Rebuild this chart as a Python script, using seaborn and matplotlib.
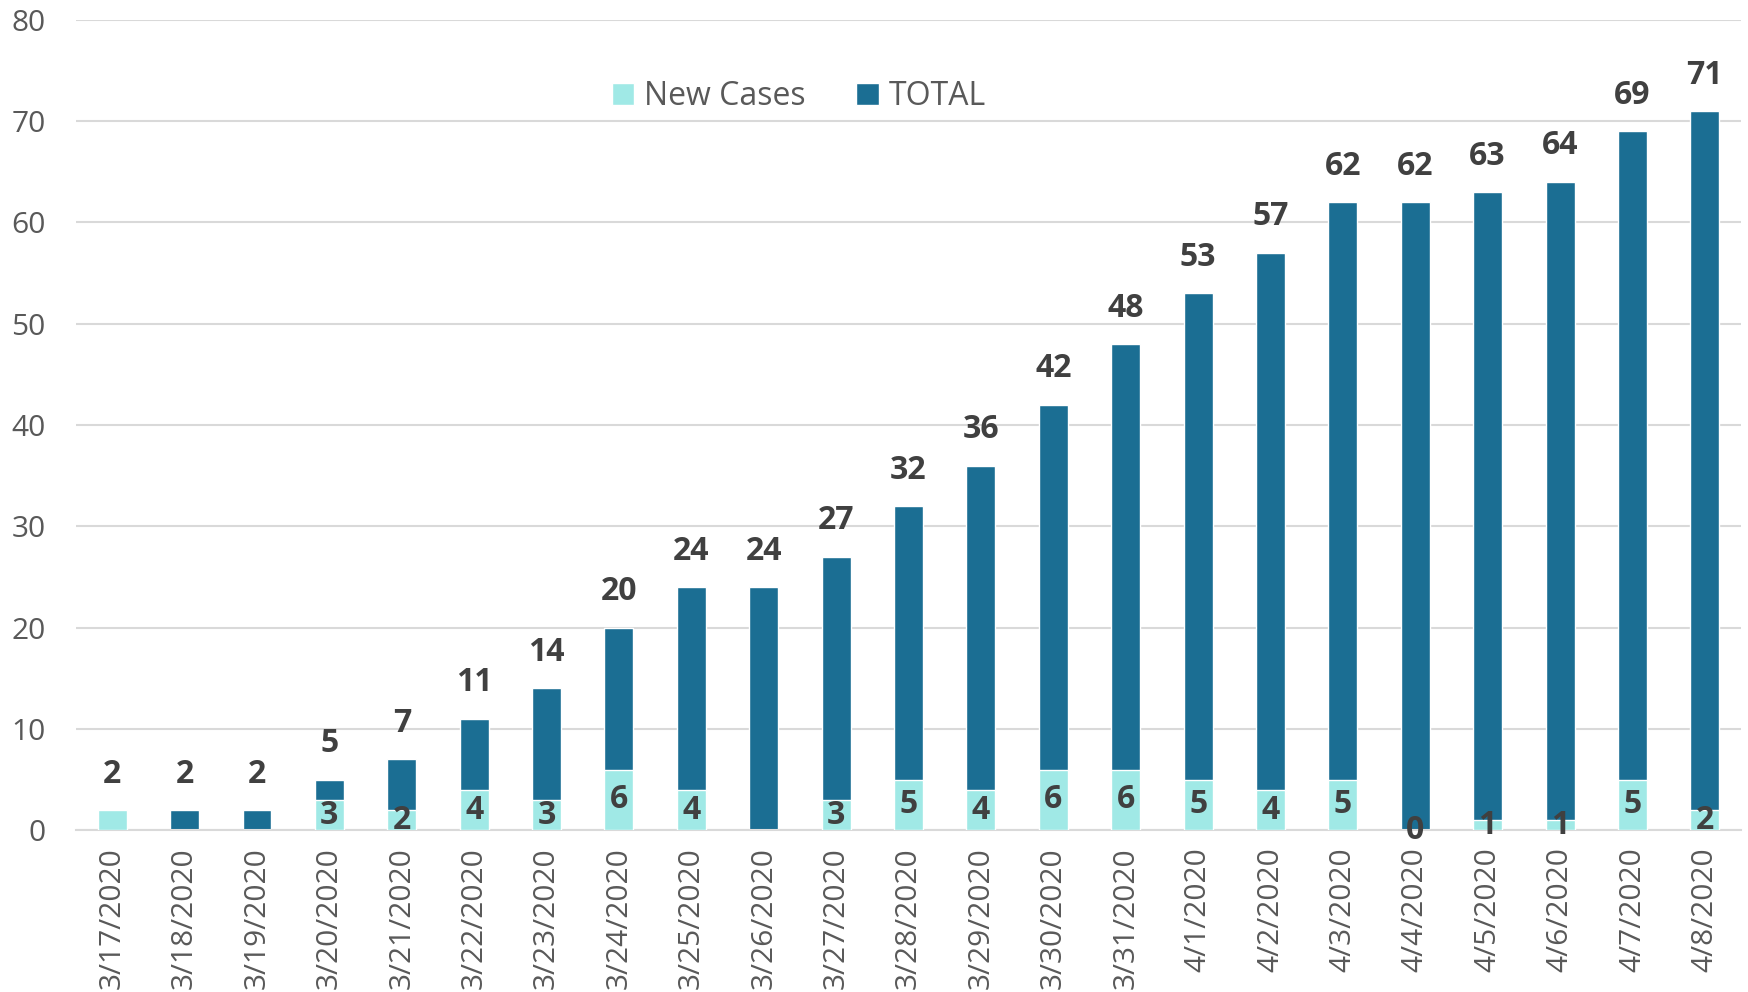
import numpy as np
import pandas as pd
import seaborn as sns
import matplotlib.pyplot as plt

dates = ['3/17/2020', '3/18/2020', '3/19/2020', '3/20/2020', '3/21/2020', '3/22/2020',
         '3/23/2020', '3/24/2020', '3/25/2020', '3/26/2020', '3/27/2020', '3/28/2020',
         '3/29/2020', '3/30/2020', '3/31/2020', '4/1/2020', '4/2/2020', '4/3/2020',
         '4/4/2020', '4/5/2020', '4/6/2020', '4/7/2020', '4/8/2020']
total = [2, 2, 2, 5, 7, 11, 14, 20, 24, 24, 27, 32, 36, 42, 48, 53, 57, 62, 62, 63, 64, 69, 71]
new_cases = [2, 0, 0, 3, 2, 4, 3, 6, 4, 0, 3, 5, 4, 6, 6, 5, 4, 5, 0, 1, 1, 5, 2]
# the source chart leaves these new-case labels out
hide_new_label = ['3/17/2020', '3/18/2020', '3/19/2020', '3/26/2020']

df = pd.DataFrame({'date': dates, 'total': total, 'new': new_cases})

total_color = '#1B6E93'
new_color = '#A0E9E6'
text_grey = '#595959'
label_dark = '#404040'
grid_grey = '#D9D9D9'

sns.set_style('white')
plt.rcParams['font.family'] = ['Open Sans', 'DejaVu Sans']

fig = plt.figure(figsize=(17.48, 9.92), dpi=100)
ax = fig.add_axes([0.0435, 0.163, 0.9525, 0.817])

sns.barplot(data=df, x='date', y='total', color=total_color, width=0.4,
            saturation=1, ax=ax, label='TOTAL', zorder=2)
sns.barplot(data=df, x='date', y='new', color=new_color, width=0.4,
            saturation=1, ax=ax, label='New Cases', zorder=3)

total_bars = ax.containers[0]
new_bars = ax.containers[1]

ax.bar_label(total_bars, labels=[str(v) for v in total], padding=14,
             fontsize=23, fontweight='bold', color=label_dark)
new_labels = ['' if d in hide_new_label else str(v) for d, v in zip(dates, new_cases)]
ax.bar_label(new_bars, labels=new_labels, label_type='center',
             fontsize=23, fontweight='bold', color=label_dark)

ax.set_ylim(0, 80)
ax.set_yticks(np.arange(0, 81, 10))
ax.set_xlim(-0.5, len(dates) - 0.5)
ax.yaxis.grid(True, color=grid_grey, linewidth=1.5, zorder=0)
ax.set_axisbelow(True)

for side in ['top', 'right', 'left']:
    ax.spines[side].set_visible(False)
ax.spines['bottom'].set_color(grid_grey)
ax.spines['bottom'].set_linewidth(1.5)

ax.set_xlabel('')
ax.set_ylabel('')
ax.tick_params(axis='y', length=0, labelsize=21.5, labelcolor=text_grey, pad=22)
ax.tick_params(axis='x', which='major', length=0, labelsize=21.5,
               labelcolor=text_grey, rotation=90, pad=12)
ax.set_xticks(np.arange(-0.5, len(dates), 1), minor=True)
ax.tick_params(axis='x', which='minor', length=10, width=1.5, color=grid_grey)

handles, labels = ax.get_legend_handles_labels()
order = [labels.index('New Cases'), labels.index('TOTAL')]
ax.legend([handles[i] for i in order], [labels[i] for i in order],
          loc='center', bbox_to_anchor=(0.434, 0.905), ncol=2, frameon=False,
          fontsize=23, labelcolor=text_grey, handlelength=0.7, handleheight=0.7,
          handletextpad=0.3, columnspacing=1.6)

fig.savefig('out.png', dpi=100)
